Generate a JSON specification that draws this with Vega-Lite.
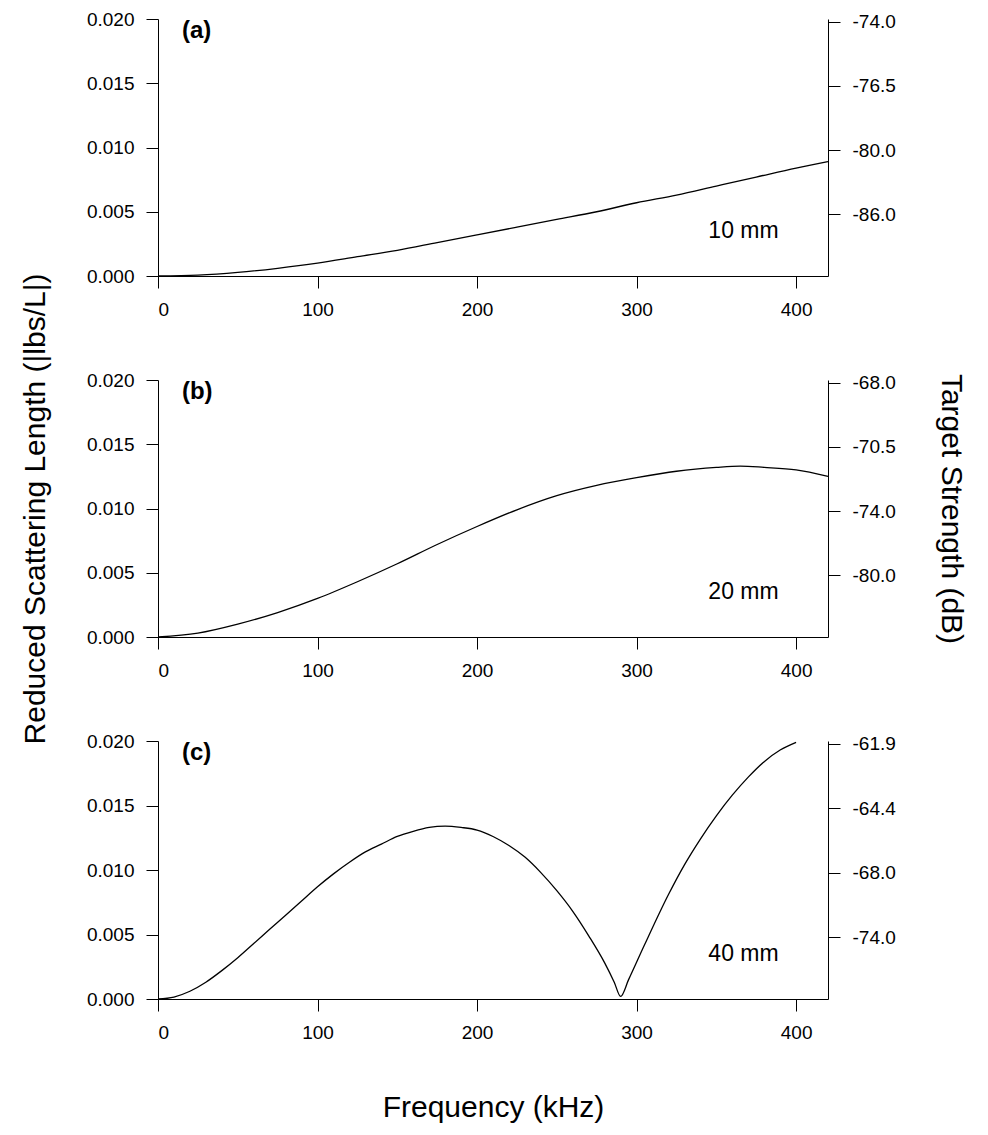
{
"$schema":"https://vega.github.io/schema/vega-lite/v6.json",
"background":"white",
"padding":{"left":20,"top":10,"right":5,"bottom":5},
"bounds":"flush",
"config":{"font":"Liberation Sans","view":{"stroke":null},"text":{"font":"Liberation Sans"},"axis":{"grid":false,"domainColor":"black","tickColor":"black","labelColor":"black","labelFont":"Liberation Sans","labelFontSize":19,"titleFont":"Liberation Sans","titleFontWeight":"normal","titleColor":"black","tickSize":12,"labelPadding":12}},
"spacing":104,
"datasets":{
"d":[
{"p":"a","f":0,"v":0},{"p":"a","f":25,"v":0.00007},{"p":"a","f":50,"v":0.00028},{"p":"a","f":75,"v":0.0006},{"p":"a","f":100,"v":0.001},{"p":"a","f":125,"v":0.0015},{"p":"a","f":150,"v":0.002},{"p":"a","f":175,"v":0.0026},{"p":"a","f":200,"v":0.0032},{"p":"a","f":225,"v":0.0038},{"p":"a","f":250,"v":0.0044},{"p":"a","f":275,"v":0.005},{"p":"a","f":300,"v":0.0057},{"p":"a","f":325,"v":0.0063},{"p":"a","f":350,"v":0.007},{"p":"a","f":375,"v":0.0077},{"p":"a","f":400,"v":0.0084},{"p":"a","f":420,"v":0.0089},
{"p":"b","f":0,"v":0},{"p":"b","f":25,"v":0.0003},{"p":"b","f":50,"v":0.001},{"p":"b","f":75,"v":0.0019},{"p":"b","f":100,"v":0.003},{"p":"b","f":125,"v":0.0043},{"p":"b","f":150,"v":0.0057},{"p":"b","f":175,"v":0.0072},{"p":"b","f":200,"v":0.0086},{"p":"b","f":225,"v":0.0099},{"p":"b","f":250,"v":0.011},{"p":"b","f":275,"v":0.0118},{"p":"b","f":300,"v":0.0124},{"p":"b","f":325,"v":0.0129},{"p":"b","f":350,"v":0.0132},{"p":"b","f":365,"v":0.0133},{"p":"b","f":380,"v":0.0132},{"p":"b","f":400,"v":0.013},{"p":"b","f":420,"v":0.0125},
{"p":"c","f":0,"v":0},{"p":"c","f":10,"v":0.00015},{"p":"c","f":20,"v":0.0006},{"p":"c","f":30,"v":0.0013},{"p":"c","f":40,"v":0.0022},{"p":"c","f":50,"v":0.0032},{"p":"c","f":60,"v":0.0043},{"p":"c","f":70,"v":0.0054},{"p":"c","f":80,"v":0.0065},{"p":"c","f":90,"v":0.0076},{"p":"c","f":100,"v":0.0087},{"p":"c","f":110,"v":0.0097},{"p":"c","f":120,"v":0.0106},{"p":"c","f":130,"v":0.0114},{"p":"c","f":140,"v":0.012},{"p":"c","f":150,"v":0.0126},{"p":"c","f":160,"v":0.013},{"p":"c","f":170,"v":0.0133},{"p":"c","f":180,"v":0.0134},{"p":"c","f":190,"v":0.0133},{"p":"c","f":200,"v":0.0131},{"p":"c","f":210,"v":0.0126},{"p":"c","f":220,"v":0.0119},{"p":"c","f":230,"v":0.011},{"p":"c","f":240,"v":0.0098},{"p":"c","f":250,"v":0.0084},{"p":"c","f":260,"v":0.0068},{"p":"c","f":270,"v":0.0049},{"p":"c","f":280,"v":0.0028},{"p":"c","f":286,"v":0.0013},{"p":"c","f":290,"v":0.0002},{"p":"c","f":295,"v":0.0015},{"p":"c","f":305,"v":0.0042},{"p":"c","f":320,"v":0.0081},{"p":"c","f":330,"v":0.0104},{"p":"c","f":340,"v":0.0124},{"p":"c","f":350,"v":0.0142},{"p":"c","f":360,"v":0.0158},{"p":"c","f":370,"v":0.0172},{"p":"c","f":380,"v":0.0184},{"p":"c","f":390,"v":0.0193},{"p":"c","f":400,"v":0.0199}
]},
"vconcat":[
{"width":670,"height":257,"resolve":{"axis":{"y":"independent"}},"layer":[
{"data":{"name":"d"},"transform":[{"filter":"datum.p=='a'"}],"mark":{"type":"line","color":"black","strokeWidth":1.3,"interpolate":"monotone"},"encoding":{"x":{"field":"f","type":"quantitative","scale":{"domain":[0,420],"nice":false},"axis":{"values":[0,100,200,300,400],"title":null}},"y":{"field":"v","type":"quantitative","scale":{"domain":[0,0.02],"nice":false},"axis":{"values":[0,0.005,0.01,0.015,0.02],"format":".3f","title":null}}}},
{"data":{"values":[{"t":"(a)"}]},"mark":{"type":"text","fontSize":24,"fontWeight":"bold","align":"left"},"encoding":{"text":{"field":"t"},"x":{"datum":15,"type":"quantitative"},"y":{"datum":0.0191,"type":"quantitative","axis":{"orient":"right","title":null,"values":[0.0048,0.0098,0.0148,0.0198],"labelExpr":"round(datum.value*10000)==198?'-74.0':round(datum.value*10000)==148?'-76.5':round(datum.value*10000)==98?'-80.0':'-86.0'"}}}},
{"data":{"values":[{"t":"10 mm"}]},"mark":{"type":"text","fontSize":23,"align":"left"},"encoding":{"text":{"field":"t"},"x":{"datum":345,"type":"quantitative"},"y":{"datum":0.0035,"type":"quantitative","axis":null}}}
]},
{"width":670,"height":257,"resolve":{"axis":{"y":"independent"}},"layer":[
{"data":{"name":"d"},"transform":[{"filter":"datum.p=='b'"}],"mark":{"type":"line","color":"black","strokeWidth":1.3,"interpolate":"monotone"},"encoding":{"x":{"field":"f","type":"quantitative","scale":{"domain":[0,420],"nice":false},"axis":{"values":[0,100,200,300,400],"title":null}},"y":{"field":"v","type":"quantitative","scale":{"domain":[0,0.02],"nice":false},"axis":{"values":[0,0.005,0.01,0.015,0.02],"format":".3f","title":"Reduced Scattering Length (|lbs/L|)","titleFontSize":30,"titlePadding":36}}}},
{"data":{"values":[{"t":"(b)"}]},"mark":{"type":"text","fontSize":24,"fontWeight":"bold","align":"left"},"encoding":{"text":{"field":"t"},"x":{"datum":15,"type":"quantitative"},"y":{"datum":0.0191,"type":"quantitative","axis":{"orient":"right","title":"Target Strength (dB)","titleFontSize":30,"titlePadding":40,"values":[0.0048,0.0098,0.0148,0.0198],"labelExpr":"round(datum.value*10000)==198?'-68.0':round(datum.value*10000)==148?'-70.5':round(datum.value*10000)==98?'-74.0':'-80.0'"}}}},
{"data":{"values":[{"t":"20 mm"}]},"mark":{"type":"text","fontSize":23,"align":"left"},"encoding":{"text":{"field":"t"},"x":{"datum":345,"type":"quantitative"},"y":{"datum":0.0035,"type":"quantitative","axis":null}}}
]},
{"width":670,"height":258,"resolve":{"axis":{"y":"independent"}},"layer":[
{"data":{"name":"d"},"transform":[{"filter":"datum.p=='c'"}],"mark":{"type":"line","color":"black","strokeWidth":1.3,"interpolate":"monotone"},"encoding":{"x":{"field":"f","type":"quantitative","scale":{"domain":[0,420],"nice":false},"axis":{"values":[0,100,200,300,400],"title":"Frequency (kHz)","titleFontSize":30,"titlePadding":50}},"y":{"field":"v","type":"quantitative","scale":{"domain":[0,0.02],"nice":false},"axis":{"values":[0,0.005,0.01,0.015,0.02],"format":".3f","title":null}}}},
{"data":{"values":[{"t":"(c)"}]},"mark":{"type":"text","fontSize":24,"fontWeight":"bold","align":"left"},"encoding":{"text":{"field":"t"},"x":{"datum":15,"type":"quantitative"},"y":{"datum":0.0191,"type":"quantitative","axis":{"orient":"right","title":null,"values":[0.0048,0.0098,0.0148,0.0198],"labelExpr":"round(datum.value*10000)==198?'-61.9':round(datum.value*10000)==148?'-64.4':round(datum.value*10000)==98?'-68.0':'-74.0'"}}}},
{"data":{"values":[{"t":"40 mm"}]},"mark":{"type":"text","fontSize":23,"align":"left"},"encoding":{"text":{"field":"t"},"x":{"datum":345,"type":"quantitative"},"y":{"datum":0.0035,"type":"quantitative","axis":null}}}
]}
]}
